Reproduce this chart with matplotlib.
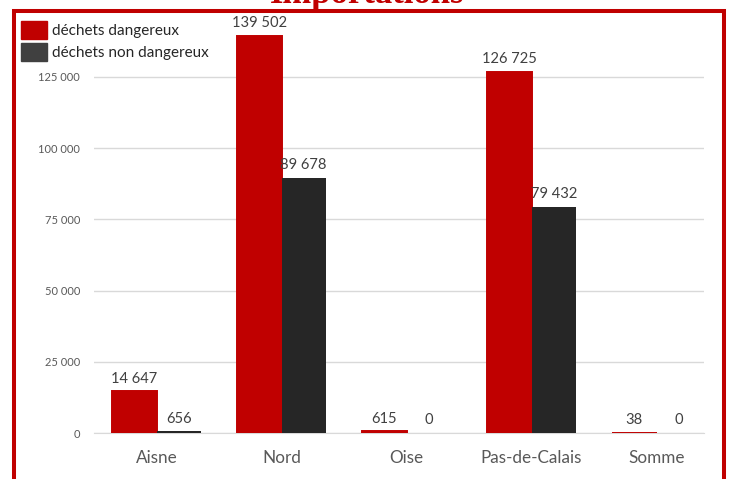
import matplotlib.pyplot as plt
from matplotlib.patches import Patch, Rectangle
import numpy as np

# Données
departements = ['Aisne', 'Nord', 'Oise', 'Pas-de-Calais', 'Somme']
dangereux = [14647, 139502, 615, 126725, 38]
non_dangereux = [656, 89678, 0, 79432, 0]
series = ['déchets dangereux', 'déchets non dangereux']
yticks = [0, 25000, 50000, 75000, 100000, 125000]

rouge = '#C00000'
noir = '#262626'
gris = '#595959'

W, H = 731, 479
fig = plt.figure(figsize=(W / 100, H / 100), dpi=100)
ax = fig.add_axes([94 / W, 46 / H, 610 / W, 413 / H])

x = np.arange(len(departements))
larg = 0.356
b1 = ax.bar(x - larg / 2, dangereux, larg, color=rouge, edgecolor=rouge,
            linewidth=1.4, zorder=3)
b2 = ax.bar(x + larg / 2, non_dangereux, larg, color=noir, zorder=3)

def fmt(v):
    return f'{v:,}'.replace(',', ' ')

for bars in (b1, b2):
    for bar in bars:
        h = bar.get_height()
        ax.annotate(fmt(int(h)), xy=(bar.get_x() + bar.get_width() / 2, h),
                    xytext=(0, 4), textcoords='offset points',
                    ha='center', va='bottom', fontsize=10.6, color='#404040',
                    family='Lato')

ax.set_xlim(-0.5, 4.38)
ax.set_ylim(0, 145000)
ax.set_xticks(x)
ax.set_xticklabels(departements, fontsize=12.3, color=gris, family='Lato')
ax.set_yticks(yticks)
ax.set_yticklabels([fmt(v) for v in yticks], fontsize=8, color=gris, family='Lato')
ax.tick_params(axis='x', length=0, pad=12)
ax.tick_params(axis='y', length=0, pad=10)
ax.grid(axis='y', color='#D9D9D9', linewidth=1, zorder=0)
for s in ['top', 'right', 'left']:
    ax.spines[s].set_visible(False)
ax.spines['bottom'].set_color('#D9D9D9')

# Légende
handles = [Patch(color=rouge), Patch(color='#404040')]
leg = fig.legend(handles, series, loc='upper left', bbox_to_anchor=(21 / W, 1 - 21 / H),
                 frameon=False, handlelength=1.7, handleheight=1.4,
                 handletextpad=0.3, labelspacing=0.3, borderaxespad=0, borderpad=0,
                 prop={'family': 'Lato', 'size': 11})
for t in leg.get_texts():
    t.set_color('#262626')

# Cadre rouge
fig.patches.append(Rectangle((13.5 / W, -0.1), 710 / W, 1.1 - 11 / H,
                             transform=fig.transFigure, fill=False,
                             edgecolor=rouge, linewidth=2.9))

# Titre (coupé en haut)
fig.text(367 / W, 1 - 3 / H, 'Importations', ha='center', va='baseline',
         fontsize=25, fontweight='bold', color=rouge, family='Liberation Serif')

fig.savefig('out.png', dpi=100)
